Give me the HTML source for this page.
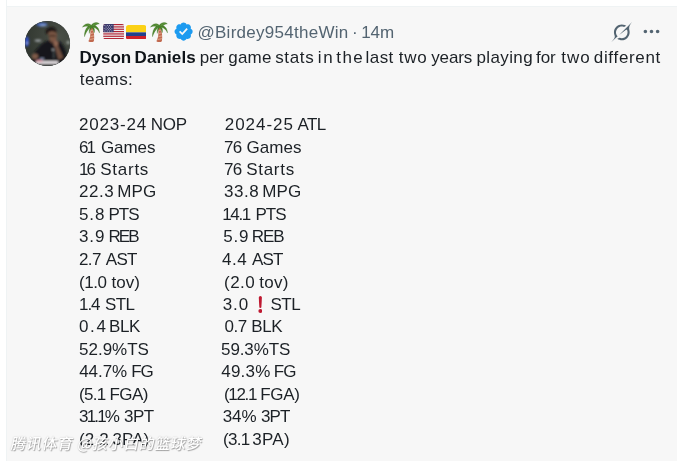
<!DOCTYPE html>
<html><head><meta charset="utf-8">
<style>
html,body{margin:0;padding:0;background:#fff;}
body{width:677px;height:461px;overflow:hidden;position:relative;font-family:"Liberation Sans","Noto Sans CJK SC",sans-serif;color:#1c2126;}
#card{position:absolute;left:6px;top:6px;width:671px;height:455px;background:#f7f7f7;border-left:1px solid #eff3f4;border-top:1px solid #eff3f4;box-sizing:border-box;}
#left{position:absolute;left:6px;top:0;width:1px;height:461px;background:#eff3f4;}
#avatar{position:absolute;left:25px;top:21px;width:44.8px;height:44.8px;border-radius:50%;overflow:hidden;background:#2a2f33;}
.w{position:absolute;white-space:pre;font-size:17px;line-height:22px;}
.h{color:#536471;}
.bd{font-weight:bold;color:#0f1419;}
.ic{position:absolute;display:block;}
#wm{position:absolute;left:9.3px;top:431.3px;font-size:15px;line-height:24px;color:#fff;font-weight:500;white-space:pre;text-shadow:1px 1px 1px rgba(0,0,0,.32),0 0 1.5px rgba(0,0,0,.22);letter-spacing:0.63px;font-family:"Noto Sans CJK SC","Liberation Sans",sans-serif;transform:skewX(-11deg);transform-origin:0 100%;}
</style></head><body>
<div id="card"></div><div id="left"></div>
<div id="avatar">
<svg width="45" height="45" viewBox="0 0 45 45">
<defs><filter id="bl" x="-20%" y="-20%" width="140%" height="140%"><feGaussianBlur stdDeviation="0.95"/></filter>
<radialGradient id="bgg" cx="0.75" cy="0.35" r="0.8"><stop offset="0" stop-color="#4a4f47"/><stop offset="1" stop-color="#30362f"/></radialGradient></defs>
<rect width="45" height="45" fill="url(#bgg)"/>
<g filter="url(#bl)">
<ellipse cx="17" cy="3.6" rx="5.6" ry="2" fill="#4565c0"/>
<ellipse cx="18" cy="4.2" rx="3.4" ry="0.8" fill="#9ab4d6"/>
<ellipse cx="1.8" cy="20.5" rx="2.2" ry="5" fill="#3150c2"/>
<ellipse cx="2" cy="22" rx="1.6" ry="1" fill="#8fa3d8"/>
<ellipse cx="13" cy="19.6" rx="3.4" ry="1.1" fill="#a7adb3"/>
<ellipse cx="43.2" cy="21.5" rx="1.8" ry="2" fill="#8d958f"/>
<path d="M6 45 Q8 30 13 27 Q18 20 24 19.5 L34 20 Q40 24 41.5 33 L42 45z" fill="#14171a"/>
<path d="M23.2 12 Q23 9.500 27.600 9.500 Q32 9.500 32 13 Q32.300 18 30.500 21 Q28 23.500 25.800 21.500 Q23.500 18 23.200 12z" fill="#7a5644"/>
<path d="M24 14.200 Q27.500 13 31 14.400 L30.800 16 Q27.500 15 24.200 16z" fill="#4a3228"/>
<path d="M25.500 20 Q27.500 21.500 29.500 20.500 L29 22.600 Q27 23.200 25.800 21.800z" fill="#4d352b"/>
<path d="M20.8 12.500 Q20 6 26.500 6 Q32 6.300 31.300 12.500 Q30 10 27 10.300 Q23.500 10 22.800 13.500z" fill="#1b1512"/>
<path d="M28.600 20 Q31 18.600 33 20.500 Q33.800 23 32.500 25.600 L29.300 25.600 Q28.300 23 28.600 20z" fill="#8f6652"/>
<path d="M29.300 25 L33 24.500 L38.300 36.500 L33.500 39z" fill="#70503f"/>
<ellipse cx="10" cy="35.300" rx="3.200" ry="2.800" fill="#7d5a48"/>
<path d="M12 39.800 L33 39.800 L33.500 43 L10 43z" fill="#dcd7da"/>
<path d="M11.500 39 L17.500 39 L17.500 41 L11 41z" fill="#d795a0"/>
<path d="M15 36.800 L19 36.800 L19 38.800 L15 38.800z" fill="#7f8aa8"/>
<path d="M28.600 29 L29.200 29 L29.200 37.500 L28.600 37.500z" fill="#8c8f92"/>
<ellipse cx="28" cy="28.700" rx="1.200" ry="0.700" fill="#c9ccd0"/>
</g>
</svg>
</div>
<!-- emojis -->
<svg class="ic" style="left:136px;top:16px" width="60" height="30" viewBox="0 0 677 338"><g id="palm">
<path fill="#C1694F" d="M246,132 C258,170 258,232 230,284 C248,297 276,297 292,284 C302,232 292,170 276,126 Z"/>
<path fill="#D99E82" d="M254,160 L282,150 L285,162 L257,172z M258,192 L291,182 L292,195 L258,205z M254,226 L294,216 L293,230 L250,240z M243,258 L294,248 L292,262 L236,272z"/>
<path fill="#47802a" stroke="#3E721D" stroke-width="3" stroke-linejoin="round" d="M262,104 C228,72 185,88 163,126 C185,112 205,112 226,118 C198,142 182,182 186,234 C200,190 222,152 252,130 C240,150 236,172 240,196 C246,166 256,146 268,132 C284,146 292,164 294,190 C304,166 300,146 288,128 C318,136 342,156 356,192 C354,150 336,122 306,108 C322,96 338,90 354,88 C326,64 288,70 262,104 Z"/>
<path fill="#5C913B" d="M258,104 C232,84 196,94 176,116 C200,104 226,106 244,116 Z M246,122 C214,138 194,170 190,210 C204,172 224,144 250,128 Z M270,104 C290,80 320,76 344,86 C322,90 304,98 290,112 Z M292,120 C322,128 342,148 352,178 C336,150 316,134 288,128 Z"/>
</g></svg>
<svg class="ic" style="left:67.6px;top:16px" width="60" height="30" viewBox="0 0 677 338"><use href="#palm"/></svg>
<svg class="ic" style="left:102.9px;top:24.2px" width="21.3" height="15.2" viewBox="0 0 36 26">
<defs><clipPath id="fc"><rect width="36" height="26" rx="4"/></clipPath></defs>
<g clip-path="url(#fc)">
<rect width="36" height="26" fill="#EEEEEE"/>
<g fill="#B22334"><rect y="0" width="36" height="2"/><rect y="4" width="36" height="2"/><rect y="8" width="36" height="2"/><rect y="12" width="36" height="2"/><rect y="16" width="36" height="2"/><rect y="20" width="36" height="2"/><rect y="24" width="36" height="2"/></g>
<rect width="18" height="14" fill="#3C3B6E"/>
<g fill="#fff"><circle cx="3" cy="2.5" r=".8"/><circle cx="7" cy="2.5" r=".8"/><circle cx="11" cy="2.5" r=".8"/><circle cx="15" cy="2.5" r=".8"/><circle cx="5" cy="5" r=".8"/><circle cx="9" cy="5" r=".8"/><circle cx="13" cy="5" r=".8"/><circle cx="3" cy="7.5" r=".8"/><circle cx="7" cy="7.5" r=".8"/><circle cx="11" cy="7.5" r=".8"/><circle cx="15" cy="7.5" r=".8"/><circle cx="5" cy="10" r=".8"/><circle cx="9" cy="10" r=".8"/><circle cx="13" cy="10" r=".8"/><circle cx="3" cy="12" r=".8"/><circle cx="7" cy="12" r=".8"/><circle cx="11" cy="12" r=".8"/><circle cx="15" cy="12" r=".8"/></g>
</g></svg>
<svg class="ic" style="left:125.9px;top:24.5px" width="20.3" height="14.7" viewBox="0 0 36 26">
<defs><clipPath id="fc2"><rect width="36" height="26" rx="4.5"/></clipPath></defs>
<g clip-path="url(#fc2)"><rect width="36" height="13" fill="#FBD116"/><rect y="13" width="36" height="6.5" fill="#22408C"/><rect y="19.5" width="36" height="6.5" fill="#CE2028"/></g></svg>
<!-- verified -->
<svg class="ic" style="left:173.1px;top:20.8px" width="21.2" height="21.2" viewBox="0 0 22 22"><path fill="#1d9bf0" d="M20.396 11c-.018-.646-.215-1.275-.57-1.816-.354-.54-.852-.972-1.438-1.246.223-.607.27-1.264.14-1.897-.131-.634-.437-1.218-.882-1.687-.47-.445-1.053-.75-1.687-.882-.633-.13-1.290-.083-1.897.14-.273-.587-.704-1.086-1.245-1.440S11.647 1.620 11 1.604c-.646.017-1.273.213-1.813.568s-.969.854-1.240 1.440c-.608-.223-1.267-.272-1.902-.14-.635.130-1.220.436-1.690.882-.445.470-.749 1.055-.878 1.688-.130.633-.08 1.290.144 1.896-.587.274-1.087.705-1.443 1.245-.356.540-.555 1.170-.574 1.817.020.647.218 1.276.574 1.817.356.540.856.972 1.443 1.245-.224.606-.274 1.263-.144 1.896.130.634.433 1.218.877 1.688.470.443 1.054.747 1.687.878.633.132 1.290.084 1.897-.136.274.586.705 1.084 1.246 1.439.540.354 1.170.551 1.816.569.647-.016 1.276-.213 1.817-.567s.972-.854 1.245-1.440c.604.239 1.266.296 1.903.164.636-.132 1.220-.447 1.680-.907.460-.460.776-1.044.908-1.681s.075-1.299-.165-1.903c.586-.274 1.084-.705 1.439-1.246.354-.540.551-1.170.569-1.816zM9.662 14.850l-3.429-3.428 1.293-1.302 2.072 2.072 4.400-4.794 1.347 1.246z"/></svg>
<!-- grok -->
<svg class="ic" style="left:610.6px;top:21.6px" width="21" height="20.4" viewBox="0 0 33 32"><path fill="#536471" d="M12.745 20.540l10.970-8.190c.539-.400 1.307-.244 1.564.380 1.349 3.288.746 7.241-1.938 9.955-2.683 2.714-6.417 3.310-9.830 1.954l-3.728 1.745c5.347 3.697 11.840 2.782 15.898-1.324 3.219-3.255 4.216-7.692 3.284-11.693l.008.009c-1.351-5.878.332-8.227 3.782-13.031L33 0l-4.540 4.590v-.014L12.743 20.544m-2.263 1.987c-3.837-3.707-3.175-9.446.100-12.755 2.420-2.449 6.388-3.448 9.852-1.979l3.720-1.737c-.670-.490-1.530-1.017-2.515-1.387-4.455-1.854-9.789-.931-13.410 2.728-3.483 3.523-4.579 8.940-2.697 13.561 1.405 3.454-.899 5.898-3.220 8.364C1.490 30.200.666 31.074 0 32l10.478-9.466"/></svg>
<!-- more -->
<svg class="ic" style="left:640.8px;top:21.3px" width="21" height="21" viewBox="0 0 24 24"><path fill="#536471" d="M3 12c0-1.100.900-2 2-2s2 .900 2 2-.900 2-2 2-2-.900-2-2zm9 2c1.100 0 2-.900 2-2s-.900-2-2-2-2 .900-2 2 .900 2 2 2zm7 0c1.100 0 2-.900 2-2s-.900-2-2-2-2 .900-2 2 .900 2 2 2z"/></svg>
<!-- exclamation -->
<svg class="ic" style="left:257.6px;top:295.3px" width="4.7" height="19" viewBox="0 0 6 22"><path fill="#be1931" d="M1 2.200 Q1 0 3 0 Q5 0 5 2.200 L4.300 14.500 Q4.200 15.500 3 15.500 Q1.800 15.500 1.700 14.500z"/><circle cx="3" cy="19.300" r="2.500" fill="#be1931"/></svg>
<span id="w0" class="w h" style="left:197.48px;top:22.00px;letter-spacing:0.269px">@Birdey954theWin</span>
<span id="w1" class="w h" style="left:351.89px;top:22.00px;letter-spacing:0.000px">·</span>
<span id="w2" class="w h" style="left:361.14px;top:22.00px;letter-spacing:0.022px">14m</span>
<span id="w3" class="w bd" style="left:79.53px;top:47.00px;letter-spacing:-0.083px">Dyson</span>
<span id="w4" class="w bd" style="left:134.55px;top:47.00px;letter-spacing:0.119px">Daniels</span>
<span id="w5" class="w " style="left:199.85px;top:47.00px;letter-spacing:-0.115px">per</span>
<span id="w6" class="w " style="left:228.23px;top:47.00px;letter-spacing:0.210px">game</span>
<span id="w7" class="w " style="left:275.18px;top:47.00px;letter-spacing:0.664px">stats</span>
<span id="w8" class="w " style="left:317.84px;top:47.00px;letter-spacing:1.531px">in</span>
<span id="w9" class="w " style="left:336.36px;top:47.00px;letter-spacing:1.389px">the</span>
<span id="w10" class="w " style="left:365.53px;top:47.00px;letter-spacing:0.459px">last</span>
<span id="w11" class="w " style="left:398.80px;top:47.00px;letter-spacing:0.729px">two</span>
<span id="w12" class="w " style="left:431.30px;top:47.00px;letter-spacing:-0.175px">years</span>
<span id="w13" class="w " style="left:476.56px;top:47.00px;letter-spacing:0.364px">playing</span>
<span id="w14" class="w " style="left:535.99px;top:47.00px;letter-spacing:-0.024px">for</span>
<span id="w15" class="w " style="left:561.33px;top:47.00px;letter-spacing:0.963px">two</span>
<span id="w16" class="w " style="left:593.79px;top:47.00px;letter-spacing:0.681px">different</span>
<span id="w17" class="w " style="left:79.80px;top:69.00px;letter-spacing:0.395px">teams:</span>
<span id="w18" class="w " style="left:78.98px;top:114.00px;letter-spacing:0.819px">2023-24</span>
<span id="w19" class="w " style="left:150.67px;top:114.00px;letter-spacing:-0.225px">NOP</span>
<span id="w20" class="w " style="left:224.74px;top:114.00px;letter-spacing:0.976px">2024-25</span>
<span id="w21" class="w " style="left:297.50px;top:114.00px;letter-spacing:-0.666px">ATL</span>
<span id="w22" class="w " style="left:78.95px;top:137.00px;letter-spacing:-1.842px">61</span>
<span id="w23" class="w " style="left:100.93px;top:137.00px;letter-spacing:-0.074px">Games</span>
<span id="w24" class="w " style="left:223.97px;top:137.00px;letter-spacing:-0.673px">76</span>
<span id="w25" class="w " style="left:246.53px;top:137.00px;letter-spacing:0.027px">Games</span>
<span id="w26" class="w " style="left:78.93px;top:159.00px;letter-spacing:-1.826px">16</span>
<span id="w27" class="w " style="left:100.28px;top:159.00px;letter-spacing:0.739px">Starts</span>
<span id="w28" class="w " style="left:223.97px;top:159.00px;letter-spacing:-0.673px">76</span>
<span id="w29" class="w " style="left:246.28px;top:159.00px;letter-spacing:0.697px">Starts</span>
<span id="w30" class="w " style="left:78.98px;top:181.00px;letter-spacing:0.561px">22.3</span>
<span id="w31" class="w " style="left:117.25px;top:181.00px;letter-spacing:0.183px">MPG</span>
<span id="w32" class="w " style="left:224.00px;top:181.00px;letter-spacing:0.551px">33.8</span>
<span id="w33" class="w " style="left:262.25px;top:181.00px;letter-spacing:0.183px">MPG</span>
<span id="w34" class="w " style="left:79.07px;top:204.00px;letter-spacing:0.835px">5.8</span>
<span id="w35" class="w " style="left:108.43px;top:204.00px;letter-spacing:-0.970px">PTS</span>
<span id="w36" class="w " style="left:222.30px;top:204.00px;letter-spacing:-1.393px">14.1</span>
<span id="w37" class="w " style="left:255.43px;top:204.00px;letter-spacing:-0.970px">PTS</span>
<span id="w38" class="w " style="left:79.00px;top:226.00px;letter-spacing:0.883px">3.9</span>
<span id="w39" class="w " style="left:108.43px;top:226.00px;letter-spacing:-1.851px">REB</span>
<span id="w40" class="w " style="left:223.23px;top:226.00px;letter-spacing:0.768px">5.9</span>
<span id="w41" class="w " style="left:251.86px;top:226.00px;letter-spacing:-1.163px">REB</span>
<span id="w42" class="w " style="left:78.98px;top:249.00px;letter-spacing:-0.594px">2.7</span>
<span id="w43" class="w " style="left:105.78px;top:249.00px;letter-spacing:-0.681px">AST</span>
<span id="w44" class="w " style="left:222.04px;top:249.00px;letter-spacing:0.582px">4.4</span>
<span id="w45" class="w " style="left:251.99px;top:249.00px;letter-spacing:-0.888px">AST</span>
<span id="w46" class="w " style="left:79.06px;top:272.00px;letter-spacing:-0.467px">(1.0</span>
<span id="w47" class="w " style="left:111.49px;top:272.00px;letter-spacing:0.065px">tov)</span>
<span id="w48" class="w " style="left:224.06px;top:272.00px;letter-spacing:0.433px">(2.0</span>
<span id="w49" class="w " style="left:259.30px;top:272.00px;letter-spacing:0.259px">tov)</span>
<span id="w50" class="w " style="left:78.93px;top:294.00px;letter-spacing:-0.996px">1.4</span>
<span id="w51" class="w " style="left:104.90px;top:294.00px;letter-spacing:-0.506px">STL</span>
<span id="w52" class="w " style="left:222.79px;top:294.00px;letter-spacing:0.851px">3.0</span>
<span id="w53" class="w " style="left:270.47px;top:294.00px;letter-spacing:-0.523px">STL</span>
<span id="w54" class="w " style="left:79.11px;top:316.00px;letter-spacing:1.557px">0.4</span>
<span id="w55" class="w " style="left:109.05px;top:316.00px;letter-spacing:-0.399px">BLK</span>
<span id="w56" class="w " style="left:224.53px;top:316.00px;letter-spacing:-0.475px">0.7</span>
<span id="w57" class="w " style="left:251.24px;top:316.00px;letter-spacing:-0.376px">BLK</span>
<span id="w58" class="w " style="left:79.07px;top:339.00px;letter-spacing:-0.010px">52.9%TS</span>
<span id="w59" class="w " style="left:221.07px;top:339.00px;letter-spacing:-0.112px">59.3%TS</span>
<span id="w60" class="w " style="left:79.25px;top:361.00px;letter-spacing:-0.083px">44.7%</span>
<span id="w61" class="w " style="left:131.24px;top:361.00px;letter-spacing:-1.068px">FG</span>
<span id="w62" class="w " style="left:221.25px;top:361.00px;letter-spacing:0.209px">49.3%</span>
<span id="w63" class="w " style="left:273.86px;top:361.00px;letter-spacing:-1.111px">FG</span>
<span id="w64" class="w " style="left:79.06px;top:384.00px;letter-spacing:-0.716px">(5.1</span>
<span id="w65" class="w " style="left:109.43px;top:384.00px;letter-spacing:-0.535px">FGA)</span>
<span id="w66" class="w " style="left:224.06px;top:384.00px;letter-spacing:-1.354px">(12.1</span>
<span id="w67" class="w " style="left:260.25px;top:384.00px;letter-spacing:-0.343px">FGA)</span>
<span id="w68" class="w " style="left:79.00px;top:406.00px;letter-spacing:-1.820px">31.1%</span>
<span id="w69" class="w " style="left:123.93px;top:406.00px;letter-spacing:-0.456px">3PT</span>
<span id="w70" class="w " style="left:222.79px;top:406.00px;letter-spacing:-0.128px">34%</span>
<span id="w71" class="w " style="left:260.98px;top:406.00px;letter-spacing:-0.933px">3PT</span>
<span id="w72" class="w " style="left:79.06px;top:429.00px;letter-spacing:0.150px">(2.2</span>
<span id="w73" class="w " style="left:112.56px;top:429.00px;letter-spacing:0.050px">3PA)</span>
<span id="w74" class="w " style="left:223.06px;top:429.00px;letter-spacing:-0.716px">(3.1</span>
<span id="w75" class="w " style="left:252.18px;top:429.00px;letter-spacing:0.310px">3PA)</span>
<div id="wm">腾讯体育 @孩小白的篮球梦</div>
</body></html>
